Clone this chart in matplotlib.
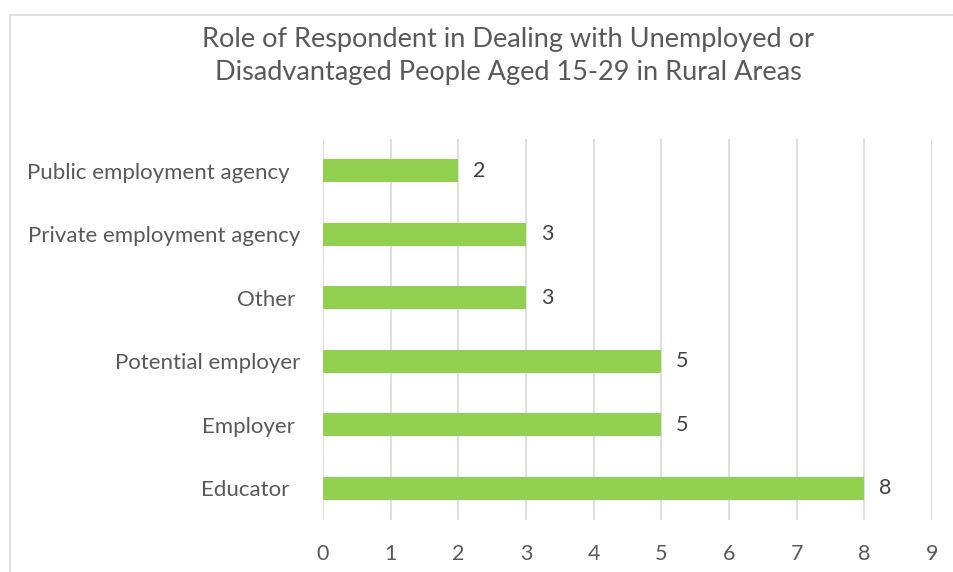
import matplotlib
matplotlib.use("Agg")
import matplotlib.pyplot as plt
from matplotlib.patches import Rectangle

plt.rcParams['font.family'] = ['Lato', 'DejaVu Sans']

categories = ["Educator  ", "Employer ", "Potential employer", "Other ",
              "Private employment agency", "Public employment agency  "]
values = [8, 5, 5, 3, 3, 2]
x_ticks = list(range(0, 10))

W, H = 954, 572
fig = plt.figure(figsize=(W / 100, H / 100), dpi=100)

# chart frame
fig.patches.append(Rectangle((10 / W, -0.1), 1.2, 1 - 15 / H + 0.1,
                             transform=fig.transFigure, fill=False,
                             edgecolor="#D9D9D9", linewidth=1.2))

ax = fig.add_axes([323 / W, 1 - 520 / H, (932 - 323) / W, (520 - 139) / H])
y = list(range(len(categories)))
ax.barh(y, values, height=0.37, color="#92D050", zorder=3)
for yi, v in zip(y, values):
    ax.text(v + 0.22, yi, str(v), va="center", ha="left",
            fontsize=15.5, color="#404040")

ax.set_xlim(0, 9)
ax.set_ylim(-0.5, len(categories) - 0.5)
ax.set_xticks(x_ticks)
ax.set_yticks(y)
ax.set_yticklabels(categories)
ax.tick_params(axis="x", length=0, pad=17, labelsize=15.5, labelcolor="#595959")
ax.tick_params(axis="y", length=0, pad=16, labelsize=16, labelcolor="#595959")
ax.grid(axis="x", color="#D9D9D9", linewidth=1.2, zorder=0)
for s in ax.spines.values():
    s.set_visible(False)

fig.text(508 / W, 1 - 56 / H,
         "Role of Respondent in Dealing with Unemployed or\nDisadvantaged People Aged 15-29 in Rural Areas",
         ha="center", va="center", fontsize=19.5, color="#595959", linespacing=1.4)

fig.savefig("out.png", dpi=100, facecolor="white")
